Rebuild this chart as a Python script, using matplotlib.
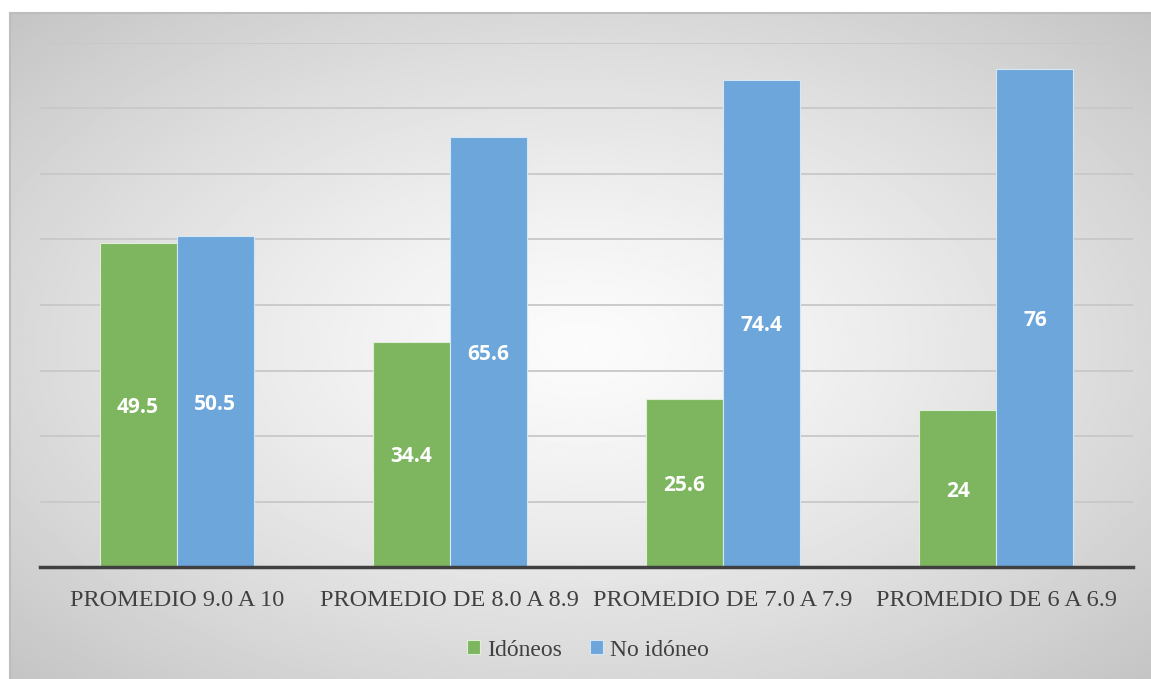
import numpy as np
import matplotlib.pyplot as plt

# Data
categories = ['PROMEDIO 9.0 A 10', 'PROMEDIO DE 8.0 A 8.9',
              'PROMEDIO DE 7.0 A 7.9', 'PROMEDIO DE 6 A 6.9']
idoneos = [49.5, 34.4, 25.6, 24]
no_idoneo = [50.5, 65.6, 74.4, 76]
series_names = ['Idóneos', 'No idóneo']
colors = ['#7EB65F', '#6DA6DA']

W, H = 1151, 679
fig = plt.figure(figsize=(W / 100, H / 100), dpi=100)

# Background with radial gradient
bg = fig.add_axes([10 / W, 0, 1 - 10 / W, 1 - 13 / H])
bg.set_zorder(-10)
yy, xx = np.mgrid[-1:1:400j, -1:1:700j]
r = np.sqrt(xx ** 2 + yy ** 2) / np.sqrt(2)
grad = 0.985 - 0.215 * r ** 1.3
bg.imshow(grad, cmap='gray', vmin=0, vmax=1, aspect='auto',
          extent=[0, 1, 0, 1], interpolation='bilinear')
bg.set_xlim(0, 1)
bg.set_ylim(0, 1)
bg.set_xticks([])
bg.set_yticks([])
for side in ['right', 'bottom']:
    bg.spines[side].set_visible(False)
for side in ['top', 'left']:
    bg.spines[side].set_color('#bdbdbd')
    bg.spines[side].set_linewidth(1.5)

# Main plot
ax = fig.add_axes([40 / W, 1 - 567 / H, (1133 - 40) / W, (567 - 43) / H])
ax.patch.set_alpha(0)
x = np.arange(len(categories))
bw = 0.282
b1 = ax.bar(x - bw / 2, idoneos, bw, color=colors[0], edgecolor='#dfeed6',
            linewidth=0.8, label=series_names[0], zorder=3)
b2 = ax.bar(x + bw / 2, no_idoneo, bw, color=colors[1], edgecolor='#d5e6f6',
            linewidth=0.8, label=series_names[1], zorder=3)

for bars, vals in [(b1, idoneos), (b2, no_idoneo)]:
    for rect, v in zip(bars, vals):
        ax.text(rect.get_x() + rect.get_width() / 2, v / 2 - 0.4, f'{v:g}',
                ha='center', va='center', color='white', fontsize=15,
                fontweight='bold', family='Open Sans', zorder=4)

ax.set_xlim(-0.5, len(categories) - 0.5)
ax.set_ylim(0, 80)
ax.set_yticks(np.arange(10, 81, 10))
ax.yaxis.grid(True, color='#c8c8c8', linewidth=1.3, zorder=0)
ax.tick_params(axis='y', left=False, labelleft=False)
ax.tick_params(axis='x', bottom=False, pad=13)
ax.set_xticks(x)
ax.set_xticklabels(categories, family='Liberation Serif', fontsize=17.5,
                   color='#404040')
for side in ['top', 'right', 'left']:
    ax.spines[side].set_visible(False)
ax.spines['bottom'].set_color('#404040')
ax.spines['bottom'].set_linewidth(2.5)
ax.spines['bottom'].set_zorder(5)

leg = fig.legend(handles=[b1, b2], labels=series_names, loc='center',
                 bbox_to_anchor=(588 / W, 1 - 650 / H), ncol=2, frameon=False,
                 prop={'family': 'Liberation Serif', 'size': 17},
                 handlelength=0.55, handleheight=0.55, handletextpad=0.3,
                 columnspacing=1.2)
for t in leg.get_texts():
    t.set_color('#404040')

fig.savefig('out.png', dpi=100)
